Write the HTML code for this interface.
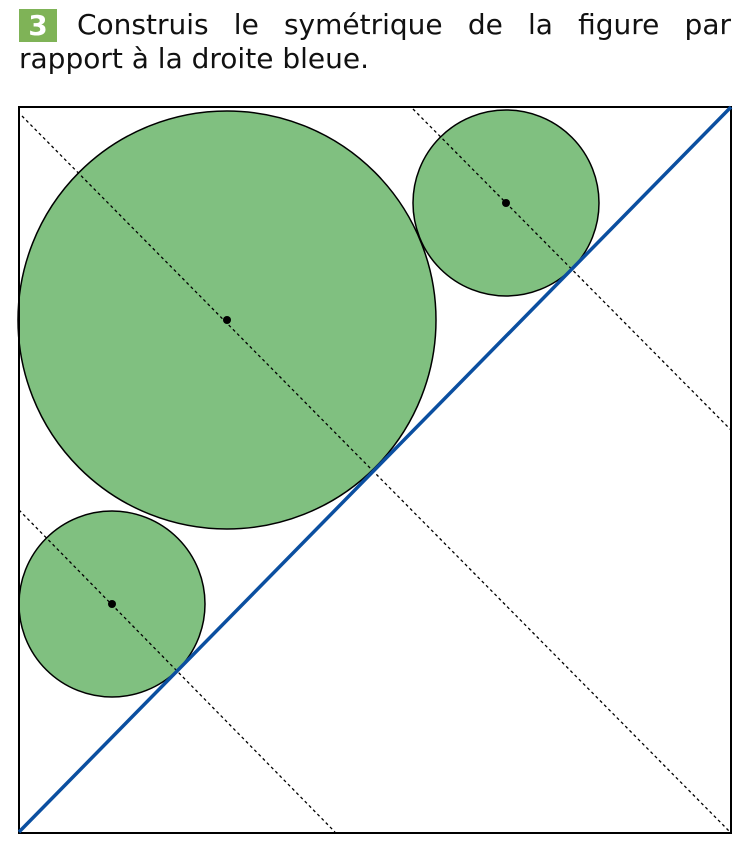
<!DOCTYPE html>
<html><head><meta charset="utf-8"><style>
body{margin:0;width:756px;height:864px;background:#fff;position:relative;overflow:hidden;font-family:"DejaVu Sans","Liberation Sans",sans-serif;color:#111}
.l{position:absolute;font-size:28px;line-height:34px;white-space:nowrap}
.j{text-align:justify;text-align-last:justify;white-space:normal}
.n{position:absolute;left:19px;top:9px;width:38px;height:33px;background:#7fb357;color:#fff;font-weight:bold;font-size:28px;line-height:33px;text-align:center}
</style></head><body>
<div class="n">3</div>
<div class="l j" style="top:8px;left:77px;width:654px">Construis le symétrique de la figure par</div>
<div class="l" style="top:42px;left:19px">rapport à la droite bleue.</div>
<svg width="756" height="864" style="position:absolute;left:0;top:0">
<g fill="#80c080" stroke="#000" stroke-width="1.5">
<circle cx="227" cy="320" r="209"/>
<circle cx="506" cy="203" r="93"/>
<circle cx="112" cy="604" r="93"/>
</g>
<g stroke="#000" stroke-width="1.3" stroke-dasharray="3,3" fill="none">
<line x1="22" y1="116" x2="729" y2="831"/>
<line x1="413" y1="109" x2="731" y2="430"/>
<line x1="19" y1="510" x2="335" y2="832"/>
</g>
<g fill="#000"><circle cx="227" cy="320" r="4"/><circle cx="506" cy="203" r="4"/><circle cx="112" cy="604" r="4"/></g>
<rect x="19" y="107" width="712" height="726" fill="none" stroke="#000" stroke-width="2"/>
<line x1="19" y1="832" x2="731" y2="107" stroke="#0b4fa0" stroke-width="3.5"/>
</svg>
</body></html>
